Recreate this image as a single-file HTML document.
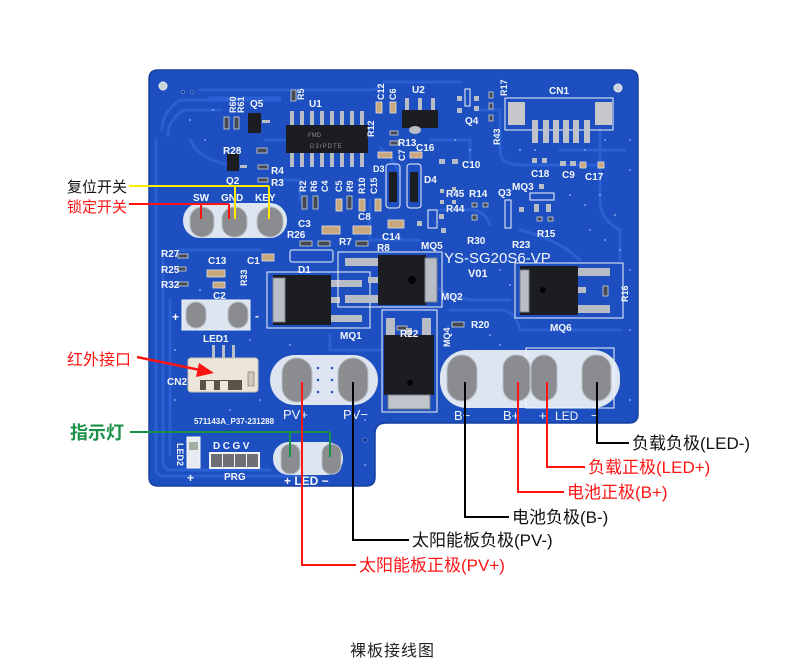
<!DOCTYPE html>
<html><head><meta charset="utf-8"><style>
html,body{margin:0;padding:0;background:#fff;}
svg{display:block}
text{font-family:"Liberation Sans","Noto Sans CJK SC",sans-serif;}
.s{fill:#f4f6fa;font-size:10px;font-weight:bold;}
.cj{font-family:"Liberation Sans","Noto Sans CJK SC",sans-serif;font-size:17px;}
</style></head><body>
<svg width="790" height="672" viewBox="0 0 790 672" xmlns="http://www.w3.org/2000/svg">
<rect width="790" height="672" fill="#fff"/>

<!-- board -->
<path d="M158,70 H629 Q638,70 638,79 V414 Q638,423 629,423 H386 Q375,423 375,434 V477 Q375,486 366,486 H158 Q149,486 149,477 V79 Q149,70 158,70 Z" fill="#1d4fc0" stroke="#16409f" stroke-width="1.5"/>

<!-- traces -->
<g fill="none" stroke="#2b60d4" stroke-width="3" stroke-linejoin="round" stroke-linecap="round">
<path d="M156,140 V468 Q156,476 164,476 H300"/>
<path d="M162,130 Q162,112 180,100 H280"/>
<path d="M168,135 Q168,120 184,110 H220"/>
<path d="M163,250 V460 Q163,470 172,470 H270"/>
<path d="M170,300 V455"/>
<path d="M200,90 H370 Q380,90 384,82 H460"/>
<path d="M210,98 H280"/>
<path d="M190,140 Q200,160 230,165"/>
<path d="M280,180 H300 V200"/>
<path d="M370,200 V240 H420"/>
<path d="M430,140 H470 V160"/>
<path d="M480,110 H500 V150 Q500,165 520,165 H600"/>
<path d="M440,210 H470 Q485,210 490,225"/>
<path d="M420,270 Q440,300 480,300 H510"/>
<path d="M520,230 Q560,240 580,260"/>
<path d="M600,130 V200 Q600,220 620,230 V260"/>
<path d="M560,150 H625"/>
<path d="M330,335 V350 H380"/>
<path d="M450,310 H500 Q515,310 520,330 H620"/>
<path d="M180,250 H260"/>
<path d="M265,140 H285"/>
<path d="M380,148 Q395,160 400,175"/>
</g>

<!-- holes / vias -->
<circle cx="163" cy="86" r="4" fill="#c8d0dc" stroke="#e8ecf2" stroke-width="1"/>
<circle cx="618" cy="88" r="4" fill="#c8d0dc" stroke="#e8ecf2" stroke-width="1"/>
<g fill="#0f2f80" stroke="#5a86e0" stroke-width="0.8">
<circle cx="183" cy="92" r="1.6"/><circle cx="192" cy="92" r="1.6"/><circle cx="365" cy="440" r="2.2"/>
</g>
<g fill="#7ea2ea">
<circle cx="190" cy="120" r="1"/><circle cx="205" cy="140" r="1"/><circle cx="213" cy="110" r="1"/>
<circle cx="455" cy="140" r="1"/><circle cx="470" cy="150" r="1"/><circle cx="520" cy="150" r="1"/><circle cx="535" cy="150" r="1"/>
<circle cx="585" cy="150" r="1"/><circle cx="605" cy="140" r="1"/><circle cx="630" cy="140" r="1"/><circle cx="630" cy="170" r="1"/>
<circle cx="570" cy="195" r="1"/><circle cx="585" cy="205" r="1"/><circle cx="600" cy="195" r="1"/><circle cx="615" cy="215" r="1"/>
<circle cx="590" cy="230" r="1"/><circle cx="605" cy="240" r="1"/><circle cx="620" cy="250" r="1"/><circle cx="630" cy="270" r="1"/>
<circle cx="500" cy="270" r="1"/><circle cx="510" cy="285" r="1"/><circle cx="490" cy="335" r="1"/><circle cx="500" cy="345" r="1"/>
<circle cx="200" cy="290" r="1"/><circle cx="175" cy="350" r="1"/><circle cx="175" cy="400" r="1"/><circle cx="230" cy="410" r="1"/>
<circle cx="260" cy="400" r="1"/><circle cx="365" cy="465" r="1"/><circle cx="365" cy="420" r="1"/><circle cx="630" cy="400" r="1"/>
<circle cx="630" cy="330" r="1"/><circle cx="210" cy="235" r="1"/><circle cx="290" cy="345" r="1"/><circle cx="250" cy="340" r="1"/>
</g>

<!-- SW / GND / KEY pads -->
<rect x="183" y="203" width="104" height="35" rx="17" fill="#dde6f0"/>
<g fill="#8b8c90" stroke="#b9bec6" stroke-width="1">
<rect x="190" y="207" width="24" height="30" rx="12"/>
<rect x="222" y="207" width="25" height="30" rx="12"/>
<rect x="257" y="207" width="26" height="30" rx="13"/>
</g>

<!-- U1 -->
<g fill="#b8bcc4">
<rect x="290" y="111" width="4" height="14"/><rect x="300" y="111" width="4" height="14"/><rect x="310" y="111" width="4" height="14"/><rect x="320" y="111" width="4" height="14"/>
<rect x="330" y="111" width="4" height="14"/><rect x="340" y="111" width="4" height="14"/><rect x="350" y="111" width="4" height="14"/><rect x="360" y="111" width="4" height="14"/>
<rect x="290" y="153" width="4" height="14"/><rect x="300" y="153" width="4" height="14"/><rect x="310" y="153" width="4" height="14"/><rect x="320" y="153" width="4" height="14"/>
<rect x="330" y="153" width="4" height="14"/><rect x="340" y="153" width="4" height="14"/><rect x="350" y="153" width="4" height="14"/><rect x="360" y="153" width="4" height="14"/>
</g>
<rect x="286" y="125" width="82" height="28" fill="#1b1d22"/>
<text x="308" y="137" font-size="6" fill="#8a8c90">FMD</text>
<text x="310" y="148" font-size="6" fill="#8a8c90" letter-spacing="1">D3rPDTE</text>

<!-- U2 -->
<g fill="#b8bcc4"><rect x="405" y="98" width="4" height="12"/><rect x="418" y="98" width="4" height="12"/><rect x="431" y="98" width="4" height="12"/></g>
<rect x="402" y="110" width="36" height="18" fill="#1b1d22"/>
<ellipse cx="415" cy="130" rx="6" ry="4" fill="#b8bcc4"/>

<!-- small SOT parts -->
<rect x="248" y="113" width="13" height="20" fill="#1b1d22"/>
<rect x="262" y="120" width="8" height="3" fill="#b8bcc4"/>
<rect x="227" y="153" width="12" height="18" fill="#1b1d22"/>
<rect x="240" y="165" width="7" height="3" fill="#b8bcc4"/>

<!-- passives (beige caps, grey resistors) -->
<g fill="#c9a77e" stroke="#e0e0e0" stroke-width="0.8">
<rect x="376" y="102" width="6" height="11"/><rect x="390" y="102" width="6" height="11"/>
<rect x="378" y="152" width="14" height="6"/><rect x="410" y="152" width="12" height="6"/>
<rect x="322" y="226" width="18" height="8"/><rect x="353" y="226" width="18" height="8"/><rect x="388" y="220" width="16" height="8"/>
<rect x="336" y="199" width="6" height="12"/><rect x="359" y="199" width="6" height="12"/><rect x="375" y="199" width="6" height="12"/>
<rect x="207" y="270" width="18" height="7"/><rect x="213" y="282" width="12" height="6"/><rect x="262" y="254" width="12" height="7"/>
<rect x="580" y="162" width="6" height="6"/><rect x="598" y="162" width="6" height="6"/>
</g>
<g fill="#444a55" stroke="#d0d4da" stroke-width="0.8">
<rect x="224" y="117" width="5" height="12"/><rect x="234" y="117" width="5" height="12"/>
<rect x="291" y="90" width="5" height="11"/><rect x="257" y="148" width="10" height="5"/>
<rect x="258" y="165" width="10" height="4"/><rect x="258" y="178" width="10" height="4"/>
<rect x="302" y="196" width="5" height="13"/><rect x="313" y="196" width="5" height="13"/><rect x="347" y="196" width="5" height="13"/>
<rect x="300" y="241" width="12" height="5"/><rect x="318" y="241" width="12" height="5"/><rect x="356" y="241" width="12" height="5"/>
<rect x="390" y="131" width="8" height="4"/><rect x="390" y="141" width="8" height="4"/>
<rect x="178" y="254" width="10" height="4"/><rect x="178" y="267" width="8" height="4"/><rect x="178" y="282" width="10" height="4"/>
<rect x="603" y="286" width="5" height="10"/><rect x="397" y="326" width="10" height="4"/><rect x="452" y="322" width="12" height="5"/>
<rect x="489" y="92" width="4" height="6"/><rect x="489" y="103" width="4" height="6"/><rect x="489" y="115" width="4" height="6"/>
<rect x="472" y="203" width="5" height="4"/><rect x="483" y="203" width="5" height="4"/><rect x="472" y="215" width="5" height="5"/>
<rect x="537" y="217" width="5" height="4"/><rect x="548" y="217" width="5" height="4"/>
</g>
<g fill="#b8bcc4">
<rect x="439" y="159" width="6" height="5"/><rect x="452" y="159" width="6" height="5"/>
<rect x="452" y="187" width="4" height="4"/><rect x="440" y="189" width="4" height="4"/><rect x="440" y="200" width="4" height="4"/><rect x="452" y="200" width="4" height="4"/>
<rect x="417" y="221" width="5" height="5"/><rect x="439" y="214" width="5" height="5"/><rect x="441" y="228" width="5" height="5"/>
<rect x="532" y="158" width="5" height="5"/><rect x="542" y="158" width="5" height="5"/><rect x="560" y="161" width="6" height="5"/><rect x="570" y="161" width="6" height="5"/>
<rect x="519" y="207" width="5" height="5"/><rect x="534" y="204" width="5" height="8"/><rect x="546" y="204" width="5" height="8"/>
<rect x="539" y="184" width="5" height="5"/><rect x="457" y="96" width="5" height="5"/><rect x="457" y="108" width="5" height="5"/>
<rect x="474" y="96" width="5" height="5"/><rect x="474" y="106" width="5" height="5"/>
</g>

<!-- D3 / D4 -->
<g fill="none" stroke="#f2f4f8" stroke-width="1">
<rect x="386" y="164" width="14" height="44" rx="3"/><rect x="407" y="164" width="14" height="44" rx="3"/>
<rect x="428" y="210" width="9" height="18"/><rect x="505" y="200" width="6" height="28"/>
<rect x="530" y="193" width="24" height="7"/><rect x="465" y="89" width="5" height="17"/>
<rect x="290" y="250" width="43" height="12" rx="2"/>
</g>
<rect x="389" y="172" width="8" height="30" fill="#1b1d22"/><rect x="410" y="172" width="8" height="30" fill="#1b1d22"/>

<!-- CN1 -->
<rect x="505" y="98" width="108" height="32" fill="none" stroke="#f2f4f8" stroke-width="1"/>
<rect x="508" y="102" width="17" height="23" fill="#c6c8cc"/><rect x="595" y="102" width="17" height="23" fill="#c6c8cc"/>
<g fill="#bfc2c8"><rect x="532" y="120" width="6" height="23"/><rect x="543" y="120" width="6" height="23"/><rect x="553" y="120" width="6" height="23"/><rect x="563" y="120" width="6" height="23"/><rect x="573" y="120" width="6" height="23"/><rect x="584" y="120" width="6" height="23"/></g>

<!-- LED1 -->
<rect x="182" y="300" width="68" height="30" fill="#dde6f0" stroke="#f4f6fa" stroke-width="1"/>
<g fill="#8b8c90" stroke="#b9bec6" stroke-width="1">
<rect x="186" y="302" width="20" height="26" rx="10"/><rect x="228" y="302" width="20" height="26" rx="10"/>
</g>

<!-- CN2 connector -->
<g fill="#b8bcc4"><rect x="212" y="345" width="3" height="14"/><rect x="222" y="345" width="3" height="14"/><rect x="232" y="345" width="3" height="14"/></g>
<rect x="188" y="358" width="70" height="34" rx="3" fill="#ece6da" stroke="#c8c0b0" stroke-width="1"/>
<rect x="200" y="380" width="42" height="10" fill="#5a5448"/>
<rect x="206" y="381" width="8" height="9" fill="#ece6da"/><rect x="220" y="381" width="8" height="9" fill="#ece6da"/>
<rect x="248" y="372" width="6" height="14" fill="#cfc8bb" stroke="#8d8578" stroke-width="0.8"/>

<!-- MQ1 -->
<rect x="267" y="272" width="103" height="56" fill="none" stroke="#f2f4f8" stroke-width="1"/>
<g fill="#b8bcc4"><rect x="330" y="280" width="32" height="7"/><rect x="330" y="315" width="32" height="7"/><rect x="330" y="297" width="10" height="6"/></g>
<rect x="273" y="275" width="58" height="50" fill="#1b1d22"/>
<rect x="273" y="278" width="12" height="44" fill="#b9bdc5" stroke="#7c8088" stroke-width="1"/>

<!-- MQ2 -->
<rect x="338" y="252" width="104" height="55" fill="none" stroke="#f2f4f8" stroke-width="1"/>
<g fill="#b8bcc4"><rect x="345" y="258" width="33" height="8"/><rect x="345" y="295" width="33" height="8"/><rect x="368" y="277" width="10" height="6"/></g>
<rect x="378" y="255" width="48" height="50" fill="#1b1d22"/>
<rect x="425" y="258" width="12" height="44" fill="#b9bdc5" stroke="#7c8088" stroke-width="1"/>
<circle cx="412" cy="280" r="4" fill="#050507"/>

<!-- MQ4 -->
<rect x="382" y="310" width="55" height="102" fill="none" stroke="#f2f4f8" stroke-width="1"/>
<g fill="#b8bcc4"><rect x="386" y="318" width="9" height="20"/><rect x="422" y="318" width="9" height="20"/><rect x="406" y="328" width="6" height="8"/></g>
<rect x="384" y="335" width="50" height="60" fill="#1b1d22"/>
<rect x="388" y="395" width="42" height="14" fill="#c0c4cb" stroke="#7c8088" stroke-width="1"/>
<circle cx="410" cy="383" r="3" fill="#050507"/>

<!-- MQ6 -->
<rect x="515" y="263" width="108" height="55" fill="none" stroke="#f2f4f8" stroke-width="1"/>
<g fill="#b8bcc4"><rect x="578" y="268" width="32" height="8"/><rect x="578" y="305" width="32" height="8"/><rect x="578" y="287" width="8" height="6"/></g>
<rect x="520" y="266" width="58" height="49" fill="#1b1d22"/>
<rect x="520" y="270" width="9" height="42" fill="#b9bdc5" stroke="#7c8088" stroke-width="1"/>
<circle cx="543" cy="290" r="3" fill="#050507"/>

<!-- PV pads -->
<rect x="270" y="355" width="108" height="50" rx="25" fill="#dde6f0"/>
<g fill="#8b8c90" stroke="#b9bec6" stroke-width="1">
<rect x="282" y="358" width="30" height="44" rx="15"/><rect x="338" y="358" width="30" height="44" rx="15"/>
</g>
<g fill="#2a58c0"><circle cx="318" cy="368" r="1.3"/><circle cx="318" cy="380" r="1.3"/><circle cx="318" cy="392" r="1.3"/><circle cx="332" cy="368" r="1.3"/><circle cx="332" cy="380" r="1.3"/><circle cx="332" cy="392" r="1.3"/></g>

<!-- B / LED pads -->
<rect x="440" y="350" width="180" height="58" rx="27" fill="#dde6f0"/>
<rect x="526" y="348" width="88" height="60" fill="none" stroke="#f4f6fa" stroke-width="1"/>
<g fill="#8b8c90" stroke="#b9bec6" stroke-width="1">
<rect x="447" y="355" width="30" height="46" rx="15"/>
<rect x="503" y="355" width="27" height="46" rx="13"/>
<rect x="531" y="355" width="26" height="46" rx="13"/>
<rect x="582" y="355" width="29" height="46" rx="14"/>
</g>

<!-- LED (bottom) pads -->
<rect x="273" y="442" width="70" height="33" rx="16" fill="#dde6f0"/>
<g fill="#8b8c90" stroke="#b9bec6" stroke-width="1">
<rect x="281" y="444" width="19" height="30" rx="9"/><rect x="322" y="444" width="19" height="30" rx="9"/>
</g>

<!-- LED2 + PRG -->
<rect x="187" y="437" width="13" height="31" fill="#e8ecf2" stroke="#f4f6fa"/>
<rect x="189" y="442" width="9" height="8" fill="#9fb0a0"/>
<rect x="209" y="452" width="51" height="17" fill="#f2f4f8"/>
<g fill="#6e7076"><rect x="211" y="454" width="11" height="13"/><rect x="223" y="454" width="11" height="13"/><rect x="235" y="454" width="11" height="13"/><rect x="247" y="454" width="11" height="13"/></g>

<!-- silkscreen labels -->
<g class="s">
<text x="193" y="201">SW</text><text x="221" y="201">GND</text><text x="255" y="201">KEY</text>
<text x="250" y="107">Q5</text><text x="309" y="107">U1</text><text x="412" y="93">U2</text>
<text x="223" y="154">R28</text><text x="271" y="174">R4</text><text x="271" y="186">R3</text><text x="226" y="184">Q2</text>
<text x="398" y="146">R13</text><text x="416" y="151">C16</text><text x="424" y="183">D4</text>
<text x="446" y="197">R45</text><text x="446" y="212">R44</text><text x="469" y="197">R14</text>
<text x="498" y="196">Q3</text><text x="512" y="190">MQ3</text><text x="467" y="244">R30</text>
<text x="512" y="248">R23</text><text x="537" y="237">R15</text><text x="421" y="249">MQ5</text>
<text x="462" y="168">C10</text><text x="531" y="177">C18</text><text x="562" y="178">C9</text><text x="585" y="180">C17</text>
<text x="549" y="94">CN1</text><text x="465" y="124">Q4</text>
<text x="298" y="227">C3</text><text x="287" y="238">R26</text><text x="358" y="220">C8</text>
<text x="382" y="240">C14</text><text x="339" y="245">R7</text><text x="377" y="251">R8</text>
<text x="161" y="257">R27</text><text x="161" y="273">R25</text><text x="161" y="288">R32</text>
<text x="208" y="264">C13</text><text x="247" y="264">C1</text><text x="213" y="299">C2</text>
<text x="298" y="273">D1</text><text x="203" y="342">LED1</text><text x="167" y="385">CN2</text>
<text x="340" y="339">MQ1</text><text x="441" y="300">MQ2</text><text x="400" y="337">R22</text>
<text x="471" y="328">R20</text><text x="550" y="331">MQ6</text>
<text x="172" y="321" font-size="12">+</text><text x="255" y="320" font-size="12">-</text>
<text x="213" y="449" letter-spacing="2.5">DCGV</text><text x="224" y="480">PRG</text>
<text x="187" y="482" font-size="12">+</text>
<text x="284" y="485" font-size="12">+ LED −</text>
<text x="194" y="424" font-size="8" font-weight="bold">571143A_P37-231288</text>
<text x="444" y="263" font-size="15" font-weight="normal">YS-SG20S6-VP</text>
<text x="468" y="277" font-size="11">V01</text>
<text x="283" y="419" font-size="13" font-weight="normal">PV+</text><text x="343" y="419" font-size="13" font-weight="normal">PV−</text>
<text x="454" y="420" font-size="13" font-weight="normal">B−</text><text x="503" y="420" font-size="13" font-weight="normal">B+</text>
<text x="539" y="420" font-size="13" font-weight="normal">+</text><text x="555" y="420" font-size="12" font-weight="normal">LED</text>
<text x="591" y="420" font-size="13" font-weight="normal">−</text>
<text transform="translate(236,113) rotate(-90)" font-size="9">R60</text>
<text transform="translate(244,113) rotate(-90)" font-size="9">R61</text>
<text transform="translate(304,100) rotate(-90)" font-size="9">R5</text>
<text transform="translate(384,100) rotate(-90)" font-size="9">C12</text>
<text transform="translate(396,100) rotate(-90)" font-size="9">C6</text>
<text transform="translate(374,137) rotate(-90)" font-size="9">R12</text>
<text transform="translate(405,161) rotate(-90)" font-size="9">C7</text>
<text transform="translate(306,192) rotate(-90)" font-size="9">R2</text>
<text transform="translate(317,192) rotate(-90)" font-size="9">R6</text>
<text transform="translate(328,192) rotate(-90)" font-size="9">C4</text>
<text transform="translate(342,192) rotate(-90)" font-size="9">C5</text>
<text transform="translate(353,192) rotate(-90)" font-size="9">R9</text>
<text transform="translate(365,194) rotate(-90)" font-size="9">R10</text>
<text transform="translate(377,194) rotate(-90)" font-size="9">C15</text>
<text x="373" y="172" font-size="9">D3</text>
<text transform="translate(507,96) rotate(-90)" font-size="9">R17</text>
<text transform="translate(500,145) rotate(-90)" font-size="9">R43</text>
<text transform="translate(247,286) rotate(-90)" font-size="9">R33</text>
<text transform="translate(450,347) rotate(-90)" font-size="9">MQ4</text>
<text transform="translate(628,302) rotate(-90)" font-size="9">R16</text>
<text transform="translate(177,443) rotate(90)" font-size="9">LED2</text>
</g>

<!-- annotation lines -->
<g fill="none" stroke-width="2">
<path d="M129,186 H269 M235,186 V219 M269,186 V219" stroke="#ffec00"/>
<path d="M129,204 H229 M201,204 V219 M229,204 V219" stroke="#ff1414"/>
<path d="M130,432 H330 M290,432 V457 M330,432 V457" stroke="#1a9148"/>
<path d="M137,357 L200,370" stroke="#ff1414" stroke-width="2.5"/>
<path d="M302,382 V565 H356" stroke="#ff1414"/>
<path d="M353,382 V540 H409" stroke="#000"/>
<path d="M465,382 V517 H509" stroke="#000"/>
<path d="M518,382 V492 H564" stroke="#ff1414"/>
<path d="M547,382 V467 H585" stroke="#ff1414"/>
<path d="M597,382 V443 H629" stroke="#000"/>
</g>
<polygon points="214,373 196,377 199,363" fill="#ff1414"/>

<!-- annotation text -->
<text x="67" y="192" font-size="15" fill="#111">复位开关</text>
<text x="67" y="212" font-size="15" fill="#ff1414">锁定开关</text>
<text x="67" y="365" font-size="16" fill="#ff1414">红外接口</text>
<text x="70" y="439" font-size="18" font-weight="bold" fill="#1a9148">指示灯</text>

<text x="632" y="449" font-size="17" fill="#111">负载负极(LED-)</text>
<text x="588" y="473" font-size="17" fill="#ff1414">负载正极(LED+)</text>
<text x="567" y="498" font-size="17" fill="#ff1414">电池正极(B+)</text>
<text x="512" y="523" font-size="17" fill="#111">电池负极(B-)</text>
<text x="412" y="546" font-size="17" fill="#111">太阳能板负极(PV-)</text>
<text x="359" y="571" font-size="17" fill="#ff1414">太阳能板正极(PV+)</text>

<text x="350" y="656" font-size="16" fill="#222" letter-spacing="1">裸板接线图</text>
</svg>
</body></html>
